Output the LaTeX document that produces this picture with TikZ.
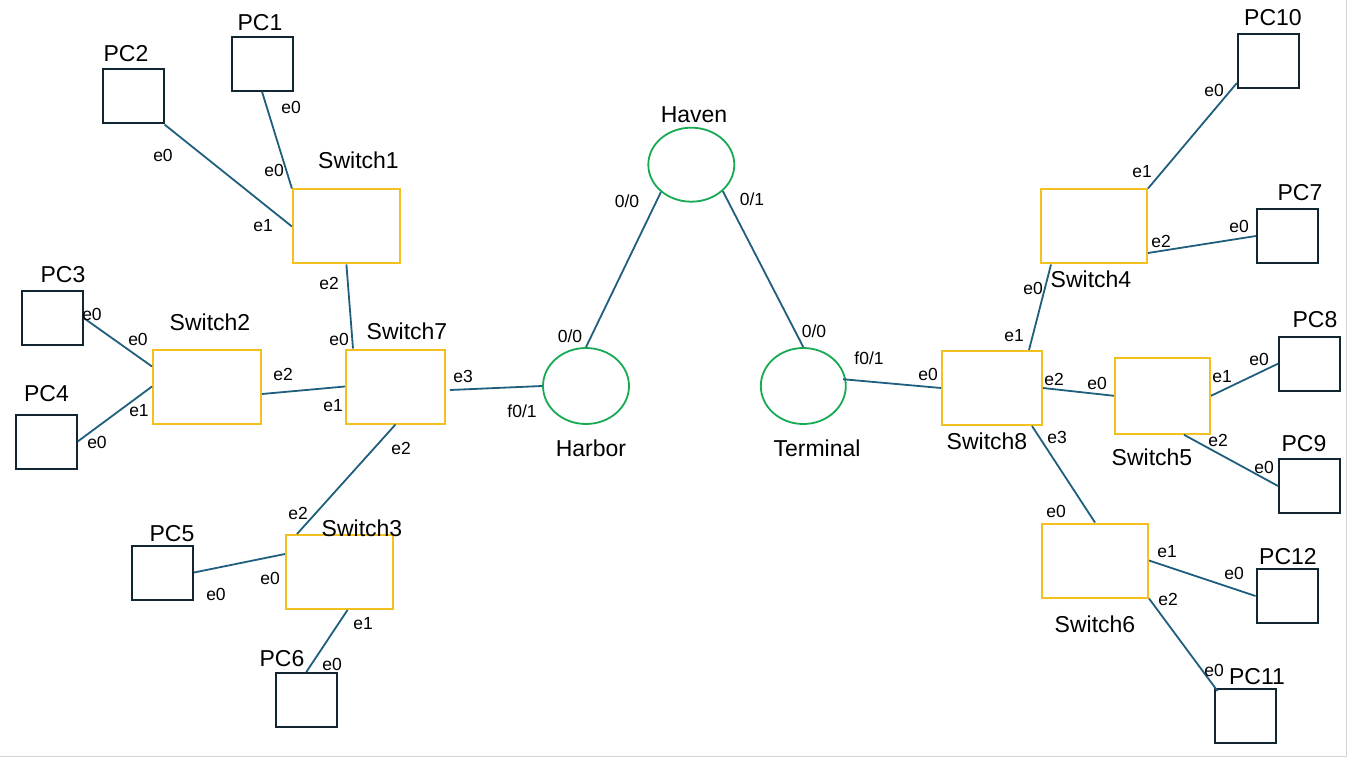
\documentclass[tikz,border=0pt]{standalone}
\usepackage{fontspec}
\setmainfont{Liberation Sans}
\usetikzlibrary{shapes.geometric}
\definecolor{linkcol}{RGB}{31,94,124}
\definecolor{pcedge}{RGB}{18,38,50}
\definecolor{switchedge}{RGB}{243,192,32}
\definecolor{routeredge}{RGB}{22,170,82}
\definecolor{framegray}{RGB}{212,212,212}

\begin{document}
\begin{tikzpicture}[x=1pt,y=-1pt,
  pc/.style={draw=pcedge,line width=2pt,minimum width=61pt,minimum height=54pt,inner sep=0pt},
  switch/.style={draw=switchedge,line width=2pt,minimum height=74pt,inner sep=0pt},
  router/.style={ellipse,draw=routeredge,line width=1.8pt,inner sep=0pt},
  devname/.style={font=\fontsize{23}{27}\selectfont,inner sep=0pt},
  port/.style={font=\fontsize{17.5}{21}\selectfont,inner sep=0pt},
  link/.style={draw=linkcol,line width=1.8pt}]
  \useasboundingbox (0,0) rectangle (1349,759);

  % --- page edge ---
  \draw[framegray,line width=1.5pt] (1346.5,0) -- (1346.5,756.5) -- (0,756.5);

  % --- routers ---
  \node[router,minimum width=86pt,minimum height=74pt] (haven) at (691.3,164.7) {};
  \node[router,minimum width=86pt,minimum height=76pt] (harbor) at (586,386) {};
  \node[router,minimum width=85pt,minimum height=76pt] (terminal) at (803.3,386) {};
  \node[devname] (havenl) at (694,115) {Haven};
  \node[devname] (harborl) at (591,448) {Harbor};
  \node[devname] (terminall) at (817,448) {Terminal};

  % --- switches ---
  \node[switch,minimum width=107pt] (sw1) at (346.4,226.5) {};
  \node[switch,minimum width=108pt] (sw2) at (207,386.5) {};
  \node[switch,minimum width=99pt] (sw7) at (395.5,386.5) {};
  \node[switch,minimum width=107pt] (sw3) at (339.5,572) {};
  \node[switch,minimum width=106pt] (sw4) at (1094,226.5) {};
  \node[switch,minimum width=100pt] (sw8) at (992,388) {};
  \node[switch,minimum width=95pt,minimum height=76pt] (sw5) at (1162.5,395.8) {};
  \node[switch,minimum width=106pt] (sw6) at (1095,560.5) {};
  \node[devname] (sw1l) at (358.5,160) {Switch1};
  \node[devname] (sw2l) at (210,322) {Switch2};
  \node[devname] (sw7l) at (407,331) {Switch7};
  \node[devname] (sw3l) at (362,528) {Switch3};
  \node[devname] (sw4l) at (1091,279) {Switch4};
  \node[devname] (sw8l) at (987,441) {Switch8};
  \node[devname] (sw5l) at (1152,457) {Switch5};
  \node[devname] (sw6l) at (1095,624) {Switch6};

  % --- hosts ---
  \node[pc] (pc1) at (262,63.7) {};
  \node[pc] (pc2) at (133,96.5) {};
  \node[pc] (pc3) at (52.5,318.2) {};
  \node[pc] (pc4) at (46.2,441.5) {};
  \node[pc] (pc5) at (162.5,572.5) {};
  \node[pc] (pc6) at (306.2,700.2) {};
  \node[pc] (pc10) at (1268.4,61) {};
  \node[pc] (pc7) at (1287.4,236) {};
  \node[pc] (pc8) at (1309.5,363.7) {};
  \node[pc] (pc9) at (1309.5,486) {};
  \node[pc] (pc12) at (1287,596) {};
  \node[pc] (pc11) at (1245,716) {};
  \node[devname] (pc1l) at (260,22.5) {PC1};
  \node[devname] (pc2l) at (126,54) {PC2};
  \node[devname] (pc3l) at (63,275) {PC3};
  \node[devname] (pc4l) at (46.5,394) {PC4};
  \node[devname] (pc5l) at (172,534) {PC5};
  \node[devname] (pc6l) at (282,659) {PC6};
  \node[devname] (pc10l) at (1273,18) {PC10};
  \node[devname] (pc7l) at (1300,193) {PC7};
  \node[devname] (pc8l) at (1315,320) {PC8};
  \node[devname] (pc9l) at (1304,444) {PC9};
  \node[devname] (pc12l) at (1288,557) {PC12};
  \node[devname] (pc11l) at (1257,677) {PC11};

  % --- links, left side ---
  \draw[link] (pc1.south) -- (sw1.north west);
  \draw[link] (pc2.south east) -- (sw1.west);
  \draw[link] (sw1.south) -- ([xshift=8pt]sw7.north west);
  \draw[link] (pc3.east) -- ([yshift=20pt]sw2.west);
  \draw[link] (pc4.east) -- (sw2.west);
  \draw[link] ([yshift=-7.5pt]sw2.east) -- (sw7.west);
  \draw[link] ([xshift=4pt,yshift=-3.5pt]sw7.east) -- (harbor.west);
  \draw[link] (sw7.south) -- ([xshift=12pt]sw3.north west);
  \draw[link] (pc5.east) -- ([yshift=18pt]sw3.west);
  \draw[link] ([xshift=8pt]sw3.south) -- (pc6.north);

  % --- links, core ---
  \draw[link] (harbor.north) -- (haven.222);
  \draw[link] (haven.320) -- (terminal.north);
  \draw[link] ([xshift=-3pt]terminal.9) -- (sw8.west);

  % --- links, right side ---
  \draw[link] ([xshift=-14pt]sw8.north east) -- ([xshift=11pt]sw4.south west);
  \draw[link] (sw4.north east) -- ([yshift=-22pt]pc10.west);
  \draw[link] ([yshift=-26.5pt]sw4.east) -- (pc7.west);
  \draw[link] (sw8.east) -- (sw5.west);
  \draw[link] (sw5.east) -- (pc8.west);
  \draw[link] ([xshift=21.5pt]sw5.south) -- (pc9.west);
  \draw[link] ([xshift=-11pt]sw8.south east) -- (sw6.north);
  \draw[link] (sw6.east) -- (pc12.west);
  \draw[link] (sw6.south east) -- ([xshift=4pt,yshift=-3pt]pc11.north west);

  % --- interface labels ---
  \foreach \px/\py/\pt [count=\i] in {
      291/107/e0, 274/170/e0, 163/155/e0, 263/226/e1,
      329/283/e2, 339/339/e0, 92/314/e0, 138/339/e0,
      97/442/e0, 139/411/e1, 283/374/e2, 333/406/e1,
      463/376/e3, 522/411/{f0/1}, 401/448/e2, 298/513/e2,
      216/594/e0, 270/578/e0, 363/624/e1, 332/664/e0,
      570/336/{0/0}, 627/201/{0/0}, 752/199/{0/1}, 814/331/{0/0},
      869/358/{f0/1}, 928/374/e0, 1014/336/e1, 1033/288/e0,
      1142/172/e1, 1214/90/e0, 1161/241/e2, 1239/226/e0,
      1054/379/e2, 1097/383/e0, 1222/377/e1, 1259/359/e0,
      1218/440/e2, 1264/467/e0, 1057/437/e3, 1056/511/e0,
      1167/552/e1, 1234/573/e0, 1168/599/e2, 1214/670/e0}
    \node[port] (if\i) at (\px,\py) {\pt};

\end{tikzpicture}
\end{document}
